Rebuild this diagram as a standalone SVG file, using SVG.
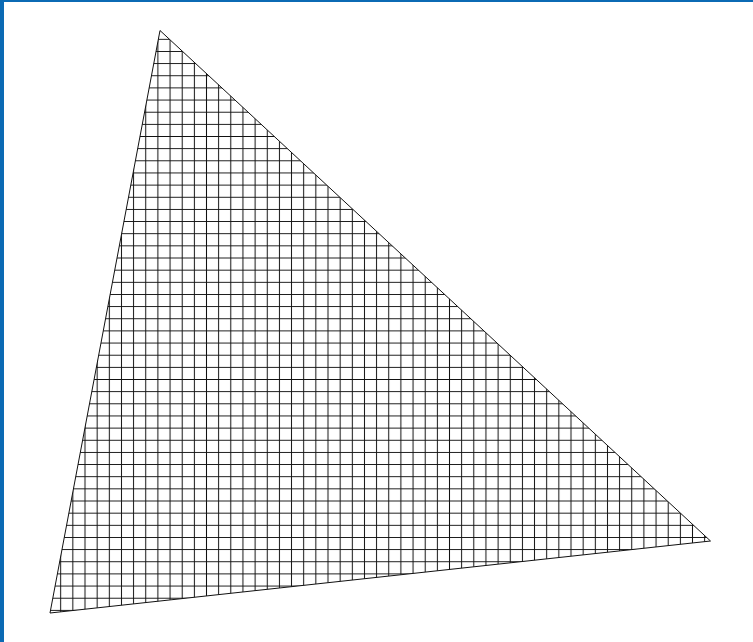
<svg xmlns="http://www.w3.org/2000/svg" width="753" height="642" viewBox="0 0 753 642">
  <defs>
    <pattern id="grid" patternUnits="userSpaceOnUse" x="54.625" y="33.225" width="12.15" height="12.15">
      <path d="M0 6.075 H12.15 M6.075 0 V12.15" fill="none" stroke="#111" stroke-width="1"/>
    </pattern>
    <style>
      .edge { fill: url(#grid); stroke: #111; stroke-width: 1; stroke-linejoin: miter; }
      .frame { fill: #0b6ab4; }
    </style>
  </defs>
  <rect x="0" y="0" width="753" height="642" fill="#ffffff"/>
  <rect class="frame" x="0" y="0" width="753" height="2"/>
  <rect class="frame" x="0" y="0" width="4" height="642"/>
  <g id="triangle">
    <polygon class="edge" points="160,30.5 710.5,541 50,613"/>
  </g>
</svg>
